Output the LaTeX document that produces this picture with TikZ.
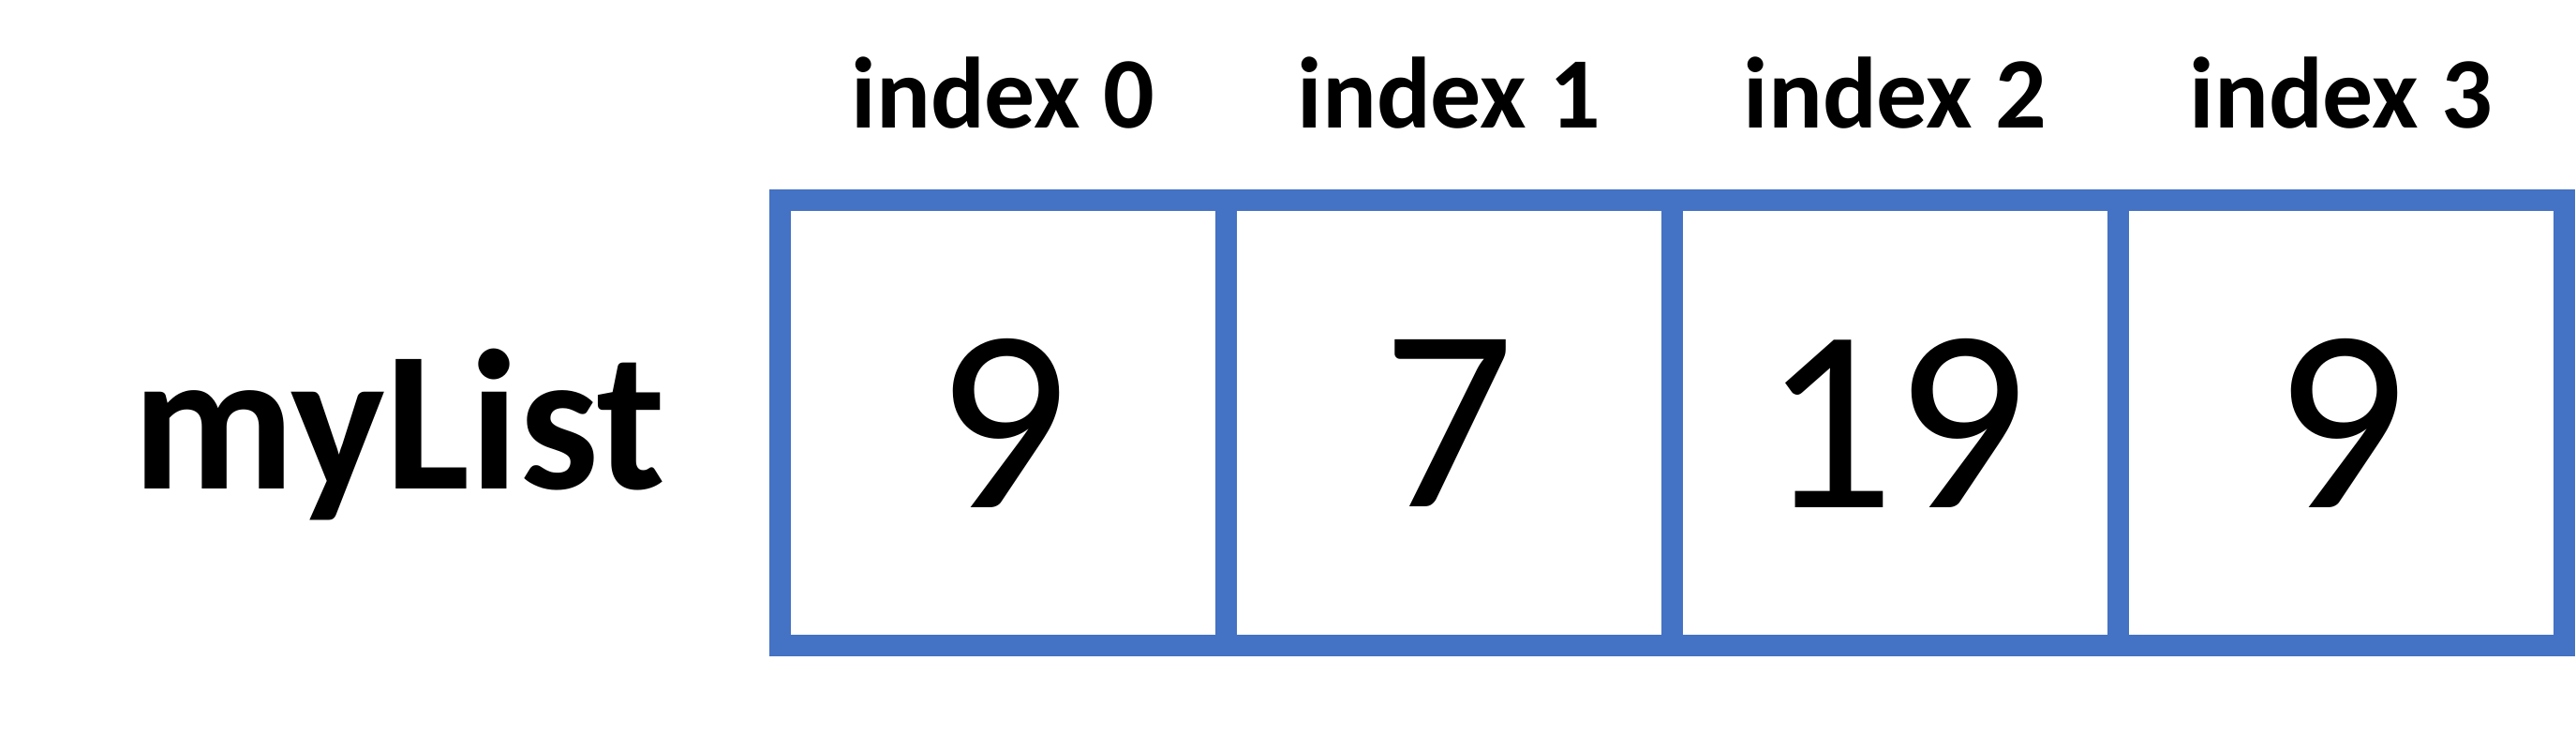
\documentclass[tikz,border=0pt]{standalone}
\usepackage{fontspec}
\setmainfont{Carlito}
\definecolor{listblue}{HTML}{4472C4}
\tikzset{
    cell/.style={draw=listblue, line width=6.45pt, minimum width=4.76cm,
        minimum height=4.754cm, inner sep=0pt,
        font=\fontsize{79}{90}\selectfont},
    idx/.style={inner sep=0pt, font=\fontsize{30.7}{36}\selectfont\bfseries},
    listlabel/.style={inner sep=0pt, font=\fontsize{60.6}{70}\selectfont\bfseries}
}
\begin{document}
\begin{tikzpicture}
                        \useasboundingbox (0,0) rectangle (27.49,7.84);

                        \foreach \i/\v in {%
                            0/9,
                            1/7,
                            2/19,
                            3/9%
                            }{
                            \node[cell] (c\i) at (10.703+4.76*\i, 3.33) {\v};
                            \node[idx, anchor=base] (l\i) at (10.703+4.76*\i, 6.48) {index \i};
                        }

                        \node[listlabel, anchor=base] (list) at (4.26, 2.63) {myList};

                    \end{tikzpicture}
\end{document}
